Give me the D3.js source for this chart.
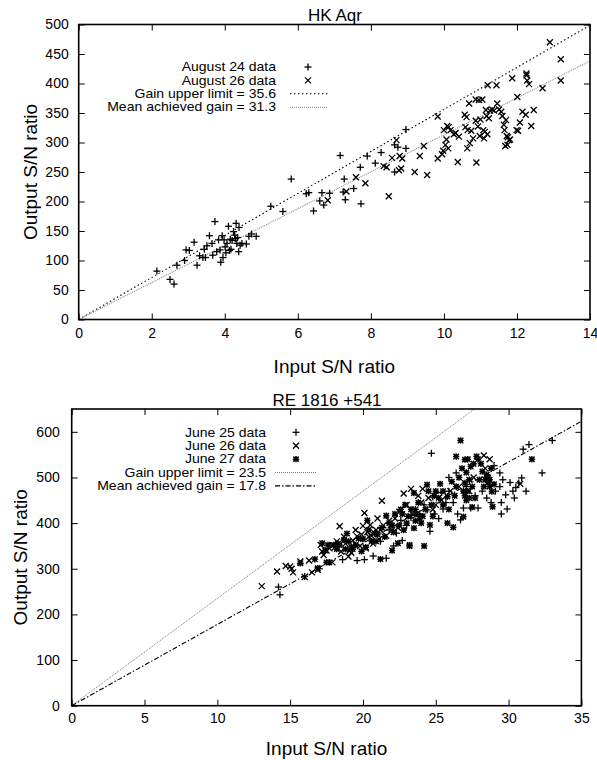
<!DOCTYPE html>
<html><head><meta charset="utf-8">
<script src="https://cdn.jsdelivr.net/npm/d3@7"></script>
<style>
body{margin:0;background:#fff;}
svg{display:block;font-family:"Liberation Sans",Arial,sans-serif;}
</style></head>
<body><svg id="c" width="597" height="760"></svg>
<script>
// ---------- Top chart: HK Aqr ----------
const aug24 = [[2.14,82],[2.50,68],[2.61,60],[2.69,92],[2.90,100],[2.94,118],[3.03,117],[3.16,131],[3.24,92],[3.31,108],[3.40,105],[3.44,119],[3.47,105],[3.51,125],[3.58,142],[3.65,129],[3.67,109],[3.73,166],[3.78,115],[3.83,135],[3.87,118],[3.89,97],[3.93,142],[3.95,105],[3.98,135],[4.01,123],[4.03,113],[4.06,129],[4.10,158],[4.13,117],[4.15,136],[4.17,119],[4.20,134],[4.24,149],[4.27,143],[4.29,137],[4.31,163],[4.33,129],[4.35,139],[4.39,156],[4.38,115],[4.42,126],[4.47,129],[4.59,128],[4.66,141],[4.73,145],[4.86,141],[5.26,192],[5.59,183],[5.82,238],[6.23,213],[6.30,215],[6.43,184],[6.60,201],[6.66,215],[6.71,194],[6.87,214],[7.16,278],[7.27,238],[7.24,216],[7.30,203],[7.53,222],[7.71,258],[7.73,196],[7.90,277],[8.12,265],[8.28,283],[8.65,296],[8.65,250],[8.74,292],[8.96,322],[8.96,290]];
const aug26 = [[6.82,202],[7.33,217],[7.59,241],[7.85,231],[8.35,260],[8.43,258],[8.49,209],[8.58,274],[8.70,304],[8.77,253],[8.79,277],[8.83,256],[8.86,273],[9.20,250],[9.34,277],[9.45,294],[9.54,245],[9.83,344],[9.83,273],[9.95,280],[9.98,286],[10.00,321],[10.04,296],[10.07,305],[10.09,328],[10.12,290],[10.13,326],[10.18,321],[10.27,314],[10.32,316],[10.38,267],[10.41,310],[10.57,347],[10.59,326],[10.62,343],[10.64,290],[10.65,321],[10.69,366],[10.71,299],[10.75,320],[10.80,307],[10.87,373],[10.87,337],[10.89,266],[10.93,327],[10.96,372],[10.98,311],[11.00,339],[11.05,373],[11.08,321],[11.10,307],[11.12,318],[11.15,355],[11.17,345],[11.19,314],[11.20,397],[11.23,341],[11.26,354],[11.32,356],[11.37,354],[11.44,397],[11.46,366],[11.51,356],[11.57,352],[11.60,345],[11.64,330],[11.66,321],[11.68,294],[11.70,338],[11.72,311],[11.74,296],[11.75,309],[11.78,304],[11.81,305],[11.87,409],[11.99,321],[12.01,377],[12.03,320],[12.08,334],[12.15,352],[12.24,347],[12.26,417],[12.26,414],[12.28,405],[12.33,399],[12.39,328],[12.46,355],[12.70,392],[12.90,470],[13.20,441],[13.20,405]];
const hkXTicks = [0,2,4,6,8,10,12,14];
const hkYTicks = [0,50,100,150,200,250,300,350,400,450,500];
const hkGainUpper = 35.6, hkGainMean = 31.3;
const hkLegend = ["August 24 data","August 26 data","Gain upper limit  = 35.6","Mean achieved gain = 31.3"];

// ---------- Bottom chart: RE 1816 +541 ----------
const jun25 = [[14.2,260],[14.3,243],[16.0,283],[17.0,300],[18.6,320],[19.6,318],[20.1,320],[20.7,328],[21.2,360],[21.6,323],[21.8,385],[22.1,350],[22.3,378],[22.6,406],[22.7,362],[23.0,395],[23.3,412],[23.6,430],[23.9,420],[24.2,440],[24.4,429],[24.6,382],[24.7,553],[24.8,457],[24.9,420],[25.2,410],[25.4,467],[25.5,431],[25.7,445],[25.9,470],[26.2,445],[26.5,420],[26.7,407],[26.9,433],[27.1,480],[27.4,433],[27.7,460],[27.9,433],[28.2,470],[28.5,455],[28.8,445],[29.0,526],[29.1,470],[29.4,510],[29.4,480],[29.5,445],[29.5,420],[29.6,495],[29.9,431],[30.1,489],[30.3,470],[30.5,478],[30.7,488],[30.9,499],[31.0,562],[31.2,470],[31.4,572],[32.3,510],[33.0,581],[30.4,455],[29.8,462],[25.9,500],[26.4,510]];
const jun26 = [[13.05,262],[14.1,294],[14.7,306],[15.0,305],[15.2,292],[15.7,316],[16.0,282],[16.5,292],[16.9,298],[17.1,352],[17.3,330],[17.5,340],[17.9,352],[17.9,314],[18.1,348],[18.4,393],[18.5,338],[18.8,355],[19.0,327],[19.2,335],[19.3,362],[19.5,385],[19.6,371],[19.8,350],[20.0,394],[20.1,422],[20.2,345],[20.4,370],[20.5,396],[20.7,355],[20.9,385],[21.1,365],[21.3,449],[21.4,395],[21.6,372],[21.9,395],[22.2,410],[22.5,425],[22.8,465],[23.0,440],[23.3,475],[23.6,430],[24.1,475],[24.5,455],[25.0,440],[26.0,470],[27.6,500],[28.3,548],[28.7,540],[28.4,520],[30.8,486],[19.9,375],[18.7,370],[17.7,345],[20.3,380],[21.0,410],[22.0,385],[15.1,300],[18.2,360],[19.1,340],[20.6,372],[21.8,405],[22.4,390],[23.4,420],[24.0,445],[24.8,430],[17.2,338],[16.3,318],[21.2,385],[23.8,460],[25.4,450],[26.6,480],[27.3,470]];
const jun27 = [[15.7,312],[16.7,321],[16.9,301],[17.2,356],[17.5,314],[17.6,352],[17.7,314],[18.2,343],[18.4,352],[18.7,363],[18.8,343],[18.9,377],[19.3,343],[19.5,352],[19.9,338],[20.2,347],[20.3,406],[20.6,360],[20.8,378],[21.2,321],[21.3,390],[21.6,416],[21.8,400],[22.0,340],[22.2,420],[22.4,356],[22.6,430],[22.9,440],[23.2,352],[23.2,350],[23.5,466],[23.5,389],[23.8,445],[23.9,410],[24.2,350],[24.4,484],[24.6,396],[24.0,400],[23.3,430],[24.8,415],[25.3,486],[25.5,470],[25.8,458],[26.1,491],[26.2,391],[26.4,480],[26.7,581],[26.4,546],[26.9,414],[27.0,539],[27.1,511],[27.0,488],[27.2,470],[27.4,524],[27.3,455],[27.5,435],[27.0,460],[27.8,546],[27.6,530],[28.0,495],[28.2,513],[28.5,506],[28.6,490],[28.7,495],[28.85,469],[28.9,436],[28.6,500],[28.3,480],[29.0,485],[31.6,540],[22.0,395],[23.0,400],[24.3,430],[25.0,470],[21.0,375],[19.0,360],[20.0,365],[22.8,385],[23.7,420],[25.8,400],[26.9,470],[27.1,450],[27.3,495],[27.5,480],[26.6,500],[26.8,520],[27.2,540],[27.9,540],[28.1,530],[28.4,495],[28.7,480],[26.3,460],[25.5,440],[25.2,455],[24.7,440],[24.1,415],[23.6,405],[23.1,415],[22.5,395],[22.1,380],[21.5,370],[20.9,360],[20.4,385],[19.7,366],[18.3,355],[17.4,340],[18.0,352],[19.2,348],[24.9,460],[25.9,430],[27.7,455],[28.8,520],[22.7,420],[24.5,470]];
const reXTicks = [0,5,10,15,20,25,30,35];
const reYTicks = [0,100,200,300,400,500,600];
const reGainUpper = 23.5, reGainMean = 17.8;
const reLegend = ["June 25 data","June 26 data","June 27 data","Gain upper limit  = 23.5","Mean achieved gain = 17.8"];

const svg = d3.select("#c");

function marker(g, type, cx, cy){
  function ln(x1,y1,x2,y2,w){ g.append("line").attr("x1",x1).attr("y1",y1).attr("x2",x2).attr("y2",y2).attr("stroke","#000").attr("stroke-width",w); }
  if(type==="plus"){ const s=3.5; ln(cx-s,cy,cx+s,cy,1.3); ln(cx,cy-s,cx,cy+s,1.3); }
  if(type==="cross"){ const t=3; ln(cx-t,cy-t,cx+t,cy+t,1.3); ln(cx-t,cy+t,cx+t,cy-t,1.3); }
  if(type==="star"){
    const s=3.2, t=2.7;
    g.append("rect").attr("x",cx-2.2).attr("y",cy-2.2).attr("width",4.4).attr("height",4.4).attr("fill","#555");
    ln(cx-s,cy,cx+s,cy,1.4); ln(cx,cy-s,cx,cy+s,1.4);
    ln(cx-t,cy-t,cx+t,cy+t,1.4); ln(cx-t,cy+t,cx+t,cy-t,1.4);
  }
}

function chart(o){
  const x = d3.scaleLinear().domain(o.xdom).range([o.left,o.right]);
  const y = d3.scaleLinear().domain(o.ydom).range([o.bottom,o.top]);
  const g = svg.append("g");
  const tk = 6;
  const ab = g.append("g").attr("transform",`translate(0,${o.bottom})`)
    .call(d3.axisBottom(x).tickValues(o.xticks).tickSize(-tk).tickPadding(o.xpad).tickFormat(d3.format("d")));
  const at = g.append("g").attr("transform",`translate(0,${o.top})`)
    .call(d3.axisTop(x).tickValues(o.xticks).tickSize(-tk).tickFormat(""));
  const al = g.append("g").attr("transform",`translate(${o.left},0)`)
    .call(d3.axisLeft(y).tickValues(o.yticks).tickSize(-tk).tickPadding(o.ypad).tickFormat(d3.format("d")));
  const ar = g.append("g").attr("transform",`translate(${o.right},0)`)
    .call(d3.axisRight(y).tickValues(o.yticks).tickSize(-tk).tickFormat(""));
  [ab,at,al,ar].forEach(a=>{a.select(".domain").remove(); a.selectAll("line").attr("stroke","#000").attr("stroke-width",1);
    a.selectAll("text").attr("font-size",14).attr("font-family","Liberation Sans, Arial, sans-serif").attr("fill","#000");});
  o.lines.forEach(L=>{
    g.append("line").attr("x1",x(0)).attr("y1",y(0)).attr("x2",x(L.x2)).attr("y2",y(L.slope*L.x2))
      .attr("stroke",L.color).attr("stroke-width",L.w).attr("stroke-dasharray",L.dash);
  });
  o.series.forEach(S=>{
    const sg = g.append("g");
    S.data.forEach(d=>marker(sg,S.type,x(d[0]),y(d[1])));
  });
  g.append("rect").attr("x",o.left).attr("y",o.top).attr("width",o.right-o.left).attr("height",o.bottom-o.top)
    .attr("fill","none").attr("stroke","#000").attr("stroke-width",1.6);
  g.append("text").attr("x",o.titleX).attr("y",o.titleY).attr("text-anchor","middle").attr("font-size",17).text(o.title);
  g.append("text").attr("x",(o.left+o.right)/2).attr("y",o.xlabY).attr("text-anchor","middle").attr("font-size",19).text("Input S/N ratio");
  g.append("text").attr("transform",`translate(${o.ylabX},${(o.top+o.bottom)/2}) rotate(-90)`).attr("text-anchor","middle").attr("font-size",19).text("Output S/N ratio");
  o.legend.forEach((t,i)=>{
    const cy = o.legY + i*o.legStep;
    g.append("text").attr("transform",`translate(${o.legTextX},${cy}) scale(1.17,1)`).attr("dy","0.35em")
      .attr("text-anchor","end").attr("font-size",12).text(t);
    const it = o.legItems[i];
    if(it.type==="line"){
      g.append("line").attr("x1",o.legL1).attr("x2",o.legL2).attr("y1",cy).attr("y2",cy)
        .attr("stroke",it.color).attr("stroke-width",it.w).attr("stroke-dasharray",it.dash);
    } else {
      marker(g,it.type,o.legMark,cy);
    }
  });
}

const hkLines = [{slope:hkGainUpper,x2:14,color:"#000",w:1.1,dash:"1.5,2.5"},{slope:hkGainMean,x2:14,color:"#888",w:1.1,dash:"1,1"}];
chart({xdom:[0,14],ydom:[0,500],left:78.7,right:590,top:24.5,bottom:319.5,xticks:hkXTicks,yticks:hkYTicks,xpad:9,ypad:10,
  title:"HK Aqr",titleX:335,titleY:21,xlabY:373,ylabX:37,
  lines:hkLines,
  series:[{type:"plus",data:aug24},{type:"cross",data:aug26}],
  legend:hkLegend,legY:67,legStep:13.4,legTextX:276,legMark:308,legL1:290,legL2:328,
  legItems:[{type:"plus"},{type:"cross"},{type:"line",color:"#000",w:1.1,dash:"1.5,2.5"},{type:"line",color:"#888",w:1.1,dash:"1,1"}]});

const reLines = [{slope:reGainUpper,x2:650/reGainUpper,color:"#777",w:1,dash:"1,1"},{slope:reGainMean,x2:35,color:"#000",w:1.1,dash:"5,2,1.5,2"}];
chart({xdom:[0,35],ydom:[0,650],left:71.7,right:581.4,top:409,bottom:705.7,xticks:reXTicks,yticks:reYTicks,xpad:7.5,ypad:12,
  title:"RE 1816 +541",titleX:327,titleY:406,xlabY:755,ylabX:27,
  lines:reLines,
  series:[{type:"plus",data:jun25},{type:"cross",data:jun26},{type:"star",data:jun27}],
  legend:reLegend,legY:432.3,legStep:13.4,legTextX:266,legMark:296,legL1:275,legL2:317,
  legItems:[{type:"plus"},{type:"cross"},{type:"star"},{type:"line",color:"#777",w:1,dash:"1,1"},{type:"line",color:"#000",w:1.1,dash:"5,2,1.5,2"}]});
</script></body></html>
